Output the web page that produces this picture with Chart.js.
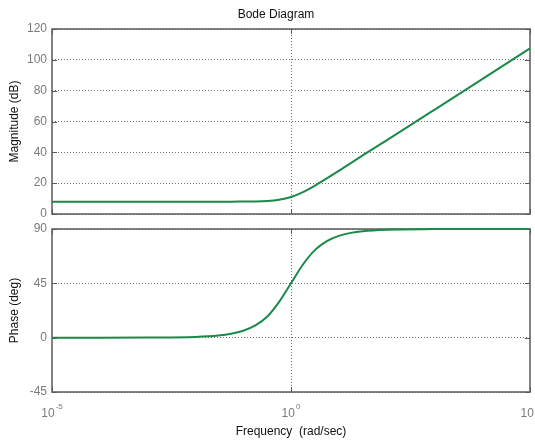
<!DOCTYPE html>
<html>
<head>
<meta charset="utf-8">
<title>Bode Diagram</title>
<script src="https://cdn.jsdelivr.net/npm/chart.js@4/dist/chart.umd.min.js"></script>
<style>
  body { margin: 0; background: #fff; }
  #wrap { position: relative; width: 535px; height: 442px; }
  canvas { position: absolute; left: 0; }
  #mag { top: 0; }
  #phase { top: 222px; }
</style>
</head>
<body>
<div id="wrap">
  <canvas id="mag" width="535" height="222"></canvas>
  <canvas id="phase" width="535" height="220"></canvas>
</div>
<script>
// values (rad/sec, dB, deg)
const frequency = [1e-5, 1e-4, 1e-3, 1e-2, 0.03, 0.056, 0.1, 0.18, 0.32, 0.56, 1, 1.78, 3.16, 5.62, 10, 17.8, 31.6, 100, 1000, 1e4, 1e5];
const magnitude = [8.0, 8.0, 8.0, 8.0, 8.0, 8.0, 8.05, 8.1, 8.4, 9.2, 11.0, 14.2, 18.4, 23.1, 28.0, 33.0, 38.0, 47.8, 67.6, 87.5, 107.4];
const phase = [0, 0, 0.1, 0.6, 1.7, 3.2, 5.7, 10.1, 17.5, 29.4, 45, 60.6, 72.5, 79.9, 84.3, 86.8, 88.2, 89.4, 89.9, 90, 90];

const freqTicks = [1e-5, 1, 1e5];
const freqExponents = ['-5', '0', '5'];
const magTicks = [0, 20, 40, 60, 80, 100, 120];
const phaseTicks = [-45, 0, 45, 90];

const FONT = 'Liberation Sans, Arial, Helvetica, sans-serif';
const lineColor = '#1a8a48';
const tickColor = '#7a7a7a';
const frameColor = '#5a5a5a';

// box round the plot plus small inner tick marks, like matlab axes
const framePlugin = {
  id: 'frame',
  beforeDatasetsDraw(chart) {
    const {ctx, chartArea: a} = chart;
    const xs = chart.scales.x, ys = chart.scales.y;
    ctx.save();
    ctx.strokeStyle = frameColor;
    ctx.lineWidth = 1.5;
    ctx.strokeRect(a.left, a.top, a.right - a.left, a.bottom - a.top);
    ctx.lineWidth = 1;
    ctx.beginPath();
    xs.ticks.forEach(t => {
      const x = Math.round(xs.getPixelForValue(t.value)) + 0.5;
      ctx.moveTo(x, a.bottom); ctx.lineTo(x, a.bottom - 5);
      ctx.moveTo(x, a.top); ctx.lineTo(x, a.top + 5);
    });
    ys.ticks.forEach(t => {
      const y = Math.round(ys.getPixelForValue(t.value)) + 0.5;
      ctx.moveTo(a.left, y); ctx.lineTo(a.left + 5, y);
      ctx.moveTo(a.right, y); ctx.lineTo(a.right - 5, y);
    });
    ctx.stroke();
    ctx.restore();
  },
  afterDraw(chart, args, opts) {
    const ctx = chart.ctx;
    ctx.save();
    if (opts.title) {
      ctx.fillStyle = '#111';
      ctx.font = '12px ' + FONT;
      ctx.textAlign = 'center';
      ctx.textBaseline = 'middle';
      ctx.fillText(opts.title, 276, 15);
    }
    if (opts.powerLabels) {
      const xs = chart.scales.x;
      const y = chart.chartArea.bottom + 25;
      ctx.fillStyle = tickColor;
      ctx.textAlign = 'left';
      ctx.textBaseline = 'alphabetic';
      freqTicks.forEach((v, i) => {
        ctx.font = '12px ' + FONT;
        const wb = ctx.measureText('10').width;
        ctx.font = '8px ' + FONT;
        const we = ctx.measureText(freqExponents[i]).width;
        const x0 = xs.getPixelForValue(v) - (wb + we + 1) / 2;
        ctx.font = '12px ' + FONT;
        ctx.fillText('10', x0, y);
        ctx.font = '8px ' + FONT;
        ctx.fillText(freqExponents[i], x0 + wb + 1, y - 8);
      });
    }
    ctx.restore();
  }
};

function freqAxis(height, title) {
  return {
    type: 'logarithmic',
    min: 1e-5,
    max: 1e5,
    afterBuildTicks: s => { s.ticks = freqTicks.map(v => ({value: v})); },
    afterFit: s => {
      s.height = height;
      s.paddingLeft = 0; s.paddingRight = 0;
    },
    ticks: {display: false},
    grid: {
      drawTicks: false,
      color: c => (c.tick && (c.tick.value === 1e-5 || c.tick.value === 1e5)) ? 'rgba(0,0,0,0)' : '#707070',
      lineWidth: 1
    },
    border: {display: false, dash: [1, 2]},
    title: title ? {
      display: true,
      text: title,
      color: '#111',
      font: {family: FONT, size: 12},
      padding: {top: 0, bottom: 3}
    } : {display: false}
  };
}

function valueAxis(min, max, values, label) {
  return {
    min: min,
    max: max,
    afterBuildTicks: s => { s.ticks = values.map(v => ({value: v})); },
    afterFit: s => {
      s.width = 52;
      s.paddingTop = 0; s.paddingBottom = 0;
    },
    ticks: {color: tickColor, padding: 5, font: {family: FONT, size: 12}},
    grid: {drawTicks: false, color: '#707070', lineWidth: 1},
    border: {display: false, dash: [1, 2]},
    title: {
      display: true,
      text: label,
      color: '#111',
      font: {family: FONT, size: 12},
      padding: {top: 7, bottom: 0}
    }
  };
}

function series(values) {
  return frequency.map((f, i) => ({x: f, y: values[i]}));
}

function makeChart(id, values, yAxis, xAxis, pad, frameOpts) {
  return new Chart(document.getElementById(id), {
    type: 'line',
    data: {
      datasets: [{
        data: series(values),
        borderColor: lineColor,
        borderWidth: 2,
        pointRadius: 0,
        cubicInterpolationMode: 'monotone',
        clip: false
      }]
    },
    options: {
      responsive: false,
      animation: false,
      devicePixelRatio: 1,
      layout: {padding: pad},
      scales: {x: xAxis, y: yAxis},
      plugins: {
        legend: {display: false},
        tooltip: {enabled: false},
        frame: frameOpts
      }
    },
    plugins: [framePlugin]
  });
}

makeChart('mag', magnitude,
  valueAxis(0, 120, magTicks, 'Magnitude (dB)'),
  freqAxis(8, null),
  {top: 29, right: 5, left: 0, bottom: 0},
  {title: 'Bode Diagram'});

makeChart('phase', phase,
  valueAxis(-45, 90, phaseTicks, 'Phase (deg)'),
  freqAxis(50, 'Frequency  (rad/sec)'),
  {top: 7, right: 5, left: 0, bottom: 0},
  {powerLabels: true});
</script>
</body>
</html>
